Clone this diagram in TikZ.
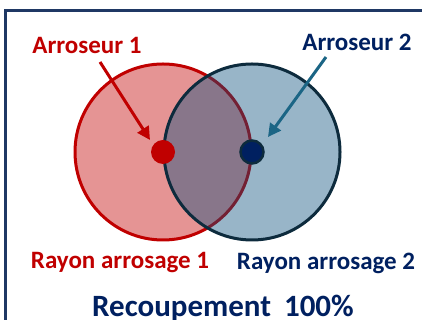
\documentclass[tikz,border=0pt]{standalone}
\usepackage{fontspec}
\setmainfont{Carlito}
\usetikzlibrary{arrows.meta}
\definecolor{cred}{HTML}{C00000}
\definecolor{cnavy}{HTML}{002060}
\definecolor{cframe}{HTML}{1F3864}
\definecolor{cbluefill}{HTML}{0A4E7C}
\definecolor{cblueline}{HTML}{0D2B3D}
\definecolor{carrowblue}{HTML}{1B6585}
\tikzset{
  lbl/.style={font=\fontsize{25}{28}\selectfont\bfseries, inner sep=0pt, anchor=base},
  pointer/.style={line width=3pt, -{Triangle[length=13pt,width=13pt]}},
  spot/.style={circle, inner sep=0pt, minimum size=24pt},
}
\begin{document}
\begin{tikzpicture}[x=1pt,y=1pt]
\useasboundingbox (0,0) rectangle (422,320);
\clip (0,0) rectangle (422,320);
% outer frame, running past the right and bottom edges
\draw[cframe, line width=3pt] (5,309) rectangle (440,-20);
% sprinkler coverage areas
\draw[cred, line width=3pt, fill=cred, fill opacity=0.42] (163,168) circle (88);
\draw[cblueline, line width=3pt, fill=cbluefill, fill opacity=0.42] (252,168) circle (88);
% sprinkler heads
\node[spot, fill=cred] (s1) at (163,168) {};
\node[spot, fill=cnavy, draw=cblueline, line width=2.5pt, minimum size=23pt] (s2) at (252,168) {};
% labels
\node[lbl, text=cred] (a1) at (87,266) {Arroseur 1};
\node[lbl, text=cnavy] (a2) at (357,269) {Arroseur 2};
\node[lbl, text=cred] (r1) at (120,51) {Rayon arrosage 1};
\node[lbl, text=cnavy] (r2) at (326,50) {Rayon arrosage 2};
\node[lbl, text=cnavy, font=\fontsize{31}{34}\selectfont\bfseries] (t) at (223,3) {Recoupement\hspace{6pt} 100\%};
% pointers
\coordinate (p1) at (100,258);
\coordinate (p2) at (326,263);
\coordinate (e1) at ([shift={(-13,12)}]s1.center);
\coordinate (e2) at ([shift={(16,15)}]s2.center);
\draw[pointer, cred] (p1) -- (e1);
\draw[pointer, carrowblue] (p2) -- (e2);
\end{tikzpicture}
\end{document}
